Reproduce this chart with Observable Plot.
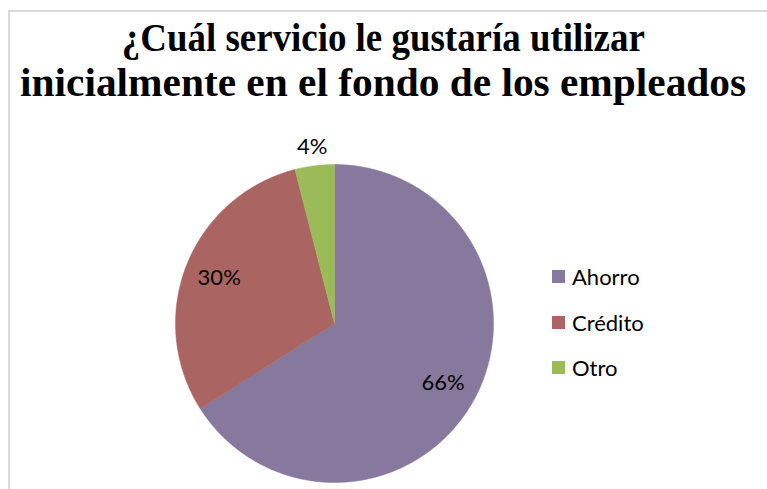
<!DOCTYPE html>
<html>
<head>
<meta charset="utf-8">
<script src="https://cdn.jsdelivr.net/npm/d3@7"></script>
<script src="https://cdn.jsdelivr.net/npm/@observablehq/plot@0.6"></script>
<style>
  html, body { margin: 0; padding: 0; background: #fff; }
  #root { position: relative; width: 767px; height: 489px; overflow: hidden; background: #fff; }
  #frame { position: absolute; left: 8px; top: 10px; width: 820px; height: 600px;
           border-top: 2px solid #d9d9d9; border-left: 2px solid #d9d9d9; }
  .title { position: absolute; left: 0; width: 767px; text-align: center; white-space: nowrap;
           font-family: "Liberation Serif", "Times New Roman", serif; font-weight: bold;
           font-size: 40px; line-height: 1; color: #000; }
  .title span { display: inline-block; transform-origin: center center; }
  #plot { position: absolute; left: 0; top: 0; }
  #legend { position: absolute; left: 552px; top: 254px; font-family: Lato, "Open Sans", sans-serif;
            font-size: 22px; color: #000; }
  #legend .row { display: flex; align-items: center; height: 45.5px; }
  #legend .sw { width: 13px; height: 13px; margin-right: 7px; }
</style>
</head>
<body>
<div id="root">
  <div id="frame"></div>
  <div class="title" id="t1" style="top:18px"><span>¿Cuál servicio le gustaría utilizar</span></div>
  <div class="title" id="t2" style="top:63px"><span>inicialmente en el fondo de los empleados</span></div>
  <div id="plot"></div>
  <div id="legend"></div>
</div>
<script>
// ---- data ----
const categories = ["Ahorro", "Crédito", "Otro"];
const values = [66, 30, 4];
const colors = ["#87789E", "#AA6562", "#9BBB59"];

// ---- layout constants (style) ----
const W = 767, H = 489, CX = 334, CY = 323, R = 159;

// title width fitting
[["t1", 523], ["t2", 726]].forEach(([id, target]) => {
  const s = document.querySelector("#" + id + " span");
  const w = s.getBoundingClientRect().width;
  s.style.transform = `scaleX(${target / w})`;
});

// pie geometry from data
const total = d3.sum(values);
const pie = d3.pie().sort(null).value((d, i) => values[i])(categories);
const slicePts = [];
const labels = [];
pie.forEach((p, i) => {
  const a0 = p.startAngle, a1 = p.endAngle;
  const n = Math.max(4, Math.ceil((a1 - a0) / (Math.PI / 360)));
  slicePts.push({cat: categories[i], x: 0, y: 0});
  for (let k = 0; k <= n; k++) {
    const a = a0 + (a1 - a0) * k / n;
    slicePts.push({cat: categories[i], x: Math.sin(a), y: Math.cos(a)});
  }
  slicePts.push({cat: categories[i], x: 0, y: 0});
  const mid = (a0 + a1) / 2;
  const rr = values[i] / total < 0.05 ? 1.12 : 0.78;
  labels.push({cat: categories[i], x: rr * Math.sin(mid), y: rr * Math.cos(mid),
               text: Math.round(values[i] / total * 100) + "%"});
});

const color = {domain: categories, range: colors};

const chart = Plot.plot({
  width: W, height: H, margin: 0,
  x: {domain: [-CX / R, (W - CX) / R], axis: null},
  y: {domain: [-(H - CY) / R, CY / R], axis: null},
  color,
  style: {background: "transparent", overflow: "visible"},
  marks: [
    Plot.line(slicePts, {x: "x", y: "y", z: "cat", fill: "cat", stroke: "cat", strokeWidth: 0.5, curve: "linear"}),
    Plot.text(labels, {x: "x", y: "y", text: "text", fontSize: 22, fill: "#000",
                       fontFamily: "Lato, 'Open Sans', sans-serif", textAnchor: "middle", dy: 0})
  ]
});
document.getElementById("plot").appendChild(chart);

// legend
const scale = chart.scale("color");
const lg = document.getElementById("legend");
categories.forEach(c => {
  const row = document.createElement("div");
  row.className = "row";
  const sw = document.createElement("div");
  sw.className = "sw";
  sw.style.background = scale.apply(c);
  const t = document.createElement("span");
  t.textContent = c;
  row.appendChild(sw); row.appendChild(t);
  lg.appendChild(row);
});
</script>
</body>
</html>
